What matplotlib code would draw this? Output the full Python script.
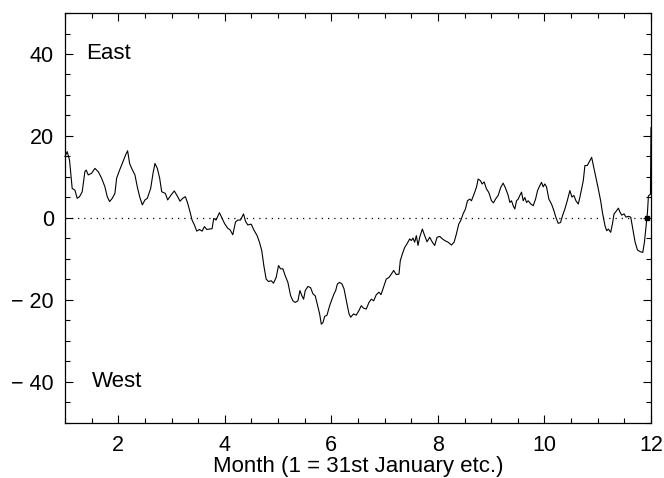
import matplotlib
matplotlib.use("Agg")
import matplotlib.pyplot as plt
from matplotlib.ticker import MultipleLocator, FuncFormatter

# month (1 = 31st January) and east-west value
months = [
    1.000, 1.041, 1.085, 1.135, 1.186, 1.229, 1.273, 1.323, 1.373, 1.398,
    1.436, 1.499, 1.561, 1.624, 1.687, 1.749, 1.793, 1.837, 1.887, 1.937,
    1.969, 2.025, 2.075, 2.138, 2.175, 2.213, 2.251, 2.313, 2.357, 2.401,
    2.451, 2.501, 2.545, 2.608, 2.652, 2.689, 2.733, 2.777, 2.815,
    2.883, 2.927, 2.990, 3.052, 3.115, 3.159, 3.209, 3.259, 3.303, 3.347,
    3.385, 3.429, 3.473, 3.523, 3.573, 3.617, 3.661, 3.711, 3.761, 3.792,
    3.836, 3.899, 3.949, 3.993, 4.055, 4.100, 4.150, 4.200, 4.244, 4.294,
    4.351, 4.388, 4.432, 4.495, 4.545,
    4.606, 4.650, 4.694, 4.732, 4.776, 4.820, 4.870, 4.914, 4.964, 5.008,
    5.046, 5.090, 5.134, 5.184, 5.234, 5.278, 5.322, 5.372, 5.410, 5.448,
    5.479, 5.510, 5.560, 5.610, 5.654, 5.698, 5.736, 5.780, 5.811, 5.843,
    5.874, 5.918, 5.968, 6.012, 6.050, 6.081, 6.113, 6.156, 6.200, 6.238,
    6.263, 6.300, 6.332, 6.363,
    6.417, 6.467, 6.517, 6.561, 6.605, 6.655, 6.706, 6.750, 6.794, 6.844,
    6.894, 6.932, 6.968, 6.999, 7.031, 7.081, 7.125, 7.169, 7.219, 7.269,
    7.294, 7.332, 7.376, 7.420, 7.470, 7.501, 7.532, 7.564, 7.595, 7.627,
    7.658, 7.708, 7.752, 7.796, 7.846, 7.896, 7.940, 7.984, 8.034, 8.085,
    8.128, 8.191, 8.254, 8.304, 8.347, 8.391, 8.429, 8.473, 8.517, 8.555,
    8.598, 8.630, 8.680, 8.724, 8.755, 8.799, 8.830, 8.868, 8.912, 8.956,
    9.006, 9.043, 9.081, 9.131, 9.181, 9.225, 9.269, 9.319, 9.351, 9.382,
    9.413, 9.444, 9.476, 9.507, 9.538, 9.570, 9.601, 9.632, 9.664, 9.695,
    9.745, 9.789, 9.833, 9.871,
    9.913, 9.945, 9.976, 10.007, 10.039, 10.083, 10.133, 10.177, 10.214, 10.258,
    10.302, 10.340, 10.384, 10.428, 10.478, 10.516, 10.553, 10.591, 10.635, 10.666,
    10.698, 10.729, 10.760, 10.804, 10.842, 10.886, 10.917, 10.967, 11.011, 11.055,
    11.093, 11.137, 11.168, 11.200, 11.244, 11.281, 11.306, 11.344, 11.388, 11.419,
    11.451, 11.495, 11.532, 11.576, 11.620, 11.658, 11.702, 11.746, 11.796, 11.846,
    11.877, 11.908, 11.934, 11.952, 11.990, 12.000,
]
values = [
    15.0, 16.2, 14.1, 7.2, 6.8, 4.8, 5.2, 6.4, 11.3, 11.7,
    10.5, 10.9, 12.1, 11.3, 9.7, 7.6, 5.2, 4.0, 4.8, 6.0,
    9.7, 11.7, 13.3, 15.4, 16.4, 13.3, 12.1, 10.5, 7.6, 5.2,
    3.2, 4.4, 4.8, 7.2, 10.9, 13.3, 12.1, 9.7, 6.4,
    6.0, 4.4, 5.6, 6.6, 5.2, 4.1, 4.8, 5.2, 3.6, 1.5,
    -0.5, -1.7, -3.2, -2.8, -3.2, -2.1, -2.8, -2.7, -2.6, -0.1,
    -0.5, 1.3, -0.1, -1.3, -2.5, -2.9, -4.1, -1.0, -0.5, -0.5,
    1.0, -0.8, -1.7, -1.5, -2.9,
    -4.3, -5.9, -8.0, -11.6, -14.9, -15.5, -15.3, -15.9, -14.5, -11.6,
    -12.4, -12.4, -14.1, -15.7, -18.9, -20.2, -20.6, -20.2, -17.7, -19.0,
    -19.8, -17.7, -16.7, -17.0, -18.5, -19.0, -21.0, -23.4, -25.9, -25.5,
    -24.0, -23.7, -21.4, -19.8, -18.5, -17.7, -16.1, -15.7, -16.1, -17.3,
    -19.0, -21.4, -23.4, -24.2,
    -23.4, -23.7, -22.6, -21.4, -22.0, -22.2, -20.6, -19.8, -20.2, -18.7,
    -18.1, -18.7, -17.3, -16.1, -14.9, -14.5, -13.7, -12.8, -13.8, -13.7,
    -10.4, -8.8, -7.2, -6.3, -5.1, -5.5, -4.9, -5.9, -4.3, -6.7,
    -4.7, -2.7, -4.3, -5.8, -4.7, -5.9, -6.7, -4.7, -4.5, -5.1,
    -5.5, -5.9, -6.6, -5.9, -3.9, -1.5, -0.6, 1.0, 2.2, 4.2,
    4.6, 4.2, 5.9, 7.5, 9.5, 9.1, 8.3, 8.8, 7.1, 6.2,
    4.2, 3.7, 4.6, 5.5, 7.5, 8.5, 7.3, 5.5, 3.8, 4.2,
    3.0, 2.2, 4.2, 4.6, 5.5, 6.3, 4.2, 5.0, 3.8, 4.2,
    3.4, 3.0, 4.6, 6.7,
    7.9, 8.7, 7.6, 8.3, 7.6, 4.6, 3.4, 1.8, 0.2, -1.3,
    -1.1, 0.6, 2.2, 4.2, 6.7, 5.1, 5.5, 4.2, 3.4, 5.1,
    7.1, 9.1, 12.8, 12.8, 13.7, 14.8, 12.9, 9.9, 7.1, 4.2,
    1.0, -1.9, -3.1, -2.7, -3.5, -1.1, 1.0, 1.6, 2.4, 1.4,
    0.7, 1.0, 0.2, 0.4, 0.2, -2.7, -5.9, -7.8, -8.2, -8.4,
    -5.9, -1.9, 1.4, 5.4, 5.8, 22.0,
]

plt.rcParams['font.family'] = ['Liberation Sans', 'DejaVu Sans']

fig = plt.figure(figsize=(6.64, 4.78), dpi=100)
ax = fig.add_axes([0.0979, 0.1151, 0.8825, 0.8577])

ax.axhline(0, color='black', lw=0.9, linestyle=(0, (1, 4)))
ax.plot(months, values, color='black', lw=0.8, clip_on=False)
ax.plot([11.93], [0], marker='s', ms=2.5, color='black', lw=0)

ax.set_xlim(1, 12)
ax.set_ylim(-50, 50)
ax.xaxis.set_major_locator(MultipleLocator(2))
ax.xaxis.set_minor_locator(MultipleLocator(0.5))
ax.yaxis.set_major_locator(MultipleLocator(20))
ax.yaxis.set_minor_locator(MultipleLocator(5))
ax.yaxis.set_major_formatter(FuncFormatter(
    lambda v, p: f"\u2212 {abs(int(v))}" if v < 0 else f"{int(v)}"))

ax.tick_params(which='both', direction='in', top=True, right=True, width=0.8)
ax.tick_params(which='major', length=6, labelsize=15.5)
ax.tick_params(axis='x', which='major', pad=9)
ax.tick_params(axis='y', which='major', pad=8)
ax.tick_params(which='minor', length=3.5)
for s in ax.spines.values():
    s.set_linewidth(0.9)

ax.text(1.40, 40, "East", fontsize=16, va='center', ha='left')
ax.text(1.51, -40, "West", fontsize=16, va='center', ha='left')
ax.set_xlabel("Month (1 = 31st January etc.)", fontsize=16, labelpad=0)

fig.savefig("out.png", dpi=100)
